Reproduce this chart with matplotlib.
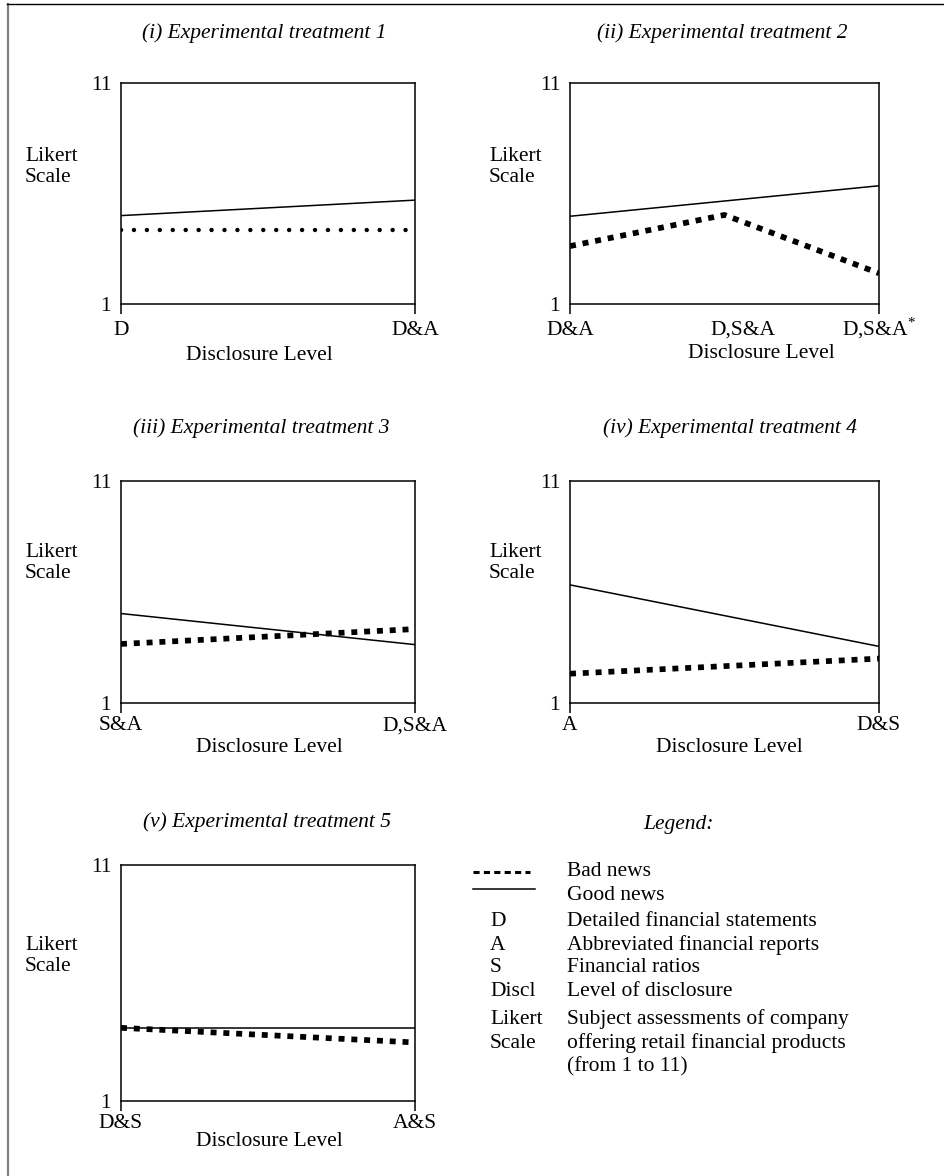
import matplotlib.pyplot as plt
from matplotlib.transforms import ScaledTranslation

plt.rcParams['font.family'] = ['Liberation Serif', 'DejaVu Serif']
plt.rcParams['mathtext.fontset'] = 'custom'
plt.rcParams['mathtext.rm'] = 'Liberation Serif'

W, H = 945, 1176
FS = 15.5

# treatment data (Likert scale means)
t1_levels = ['D', 'D&A']
t1_good = [5.0, 5.7]
t1_bad = [4.35, 4.35]

t2_levels = ['D&A', 'D,S&A', r'D,S&A$^{*}$']
t2_good = [4.97, 5.66, 6.35]
t2_bad = [3.62, 5.03, 2.39]

t3_levels = ['S&A', 'D,S&A']
t3_good = [5.03, 3.63]
t3_bad = [3.66, 4.33]

t4_levels = ['A', 'D&S']
t4_good = [6.32, 3.55]
t4_bad = [2.32, 3.0]

t5_levels = ['D&S', 'A&S']
t5_good = [4.1, 4.1]
t5_bad = [4.1, 3.48]

titles = ['(i) Experimental treatment 1', '(ii) Experimental treatment 2',
          '(iii) Experimental treatment 3', '(iv) Experimental treatment 4',
          '(v) Experimental treatment 5']

legend_keys = ['D', 'A', 'S', 'Discl', 'Likert', 'Scale', '']
legend_desc = ['Detailed financial statements', 'Abbreviated financial reports',
               'Financial ratios', 'Level of disclosure',
               'Subject assessments of company',
               'offering retail financial products', '(from 1 to 11)']

fig = plt.figure(figsize=(W / 100, H / 100), dpi=100)

# overlay in pixel coordinates for free text
bg = fig.add_axes([0, 0, 1, 1])
bg.set_xlim(0, W)
bg.set_ylim(H, 0)
bg.axis('off')

# page frame
bg.plot([7.5, 7.5], [4, H], color='#808080', lw=1.6)
bg.plot([7, W], [4, 4], color='black', lw=1.0)


def panel(box, levels, good, bad, dotted=False, lab_pad=15):
    x0, y0, x1, y1 = box
    ax = fig.add_axes([x0 / W, 1 - y1 / H, (x1 - x0) / W, (y1 - y0) / H])
    ax.patch.set_alpha(0)
    xs = list(range(len(levels)))
    ax.plot(xs, good, color='black', lw=1.1)
    if dotted:
        ax.plot(xs, bad, color='black', lw=3.2, linestyle=(0, (0.01, 2.9)),
                dash_capstyle='round')
    else:
        ax.plot(xs, bad, color='black', lw=4.1, linestyle=(0, (1.05, 1.2)))
    ax.set_xlim(0, len(levels) - 1)
    ax.set_ylim(1, 11)
    ax.set_xticks(xs)
    ax.set_xticklabels(levels, fontsize=FS)
    ax.tick_params(axis='x', length=7, width=1.1, pad=lab_pad)
    for t in ax.xaxis.get_major_ticks()[1:-1]:
        t.tick1line.set_visible(False)
    for lab in ax.get_xticklabels():
        lab.set_verticalalignment('baseline')
    ax.set_yticks([1, 11])
    ax.set_yticklabels(['1', '11'], fontsize=FS)
    ax.tick_params(axis='y', length=0, pad=7)
    for s in ax.spines.values():
        s.set_linewidth(1.1)
    return ax


panel((121, 83, 415, 304), t1_levels, t1_good, t1_bad, dotted=True, lab_pad=15.3)
ax2 = panel((570, 83, 879, 304), t2_levels, t2_good, t2_bad, lab_pad=15.3)
mid = ax2.get_xticklabels()[1]
mid.set_transform(mid.get_transform() + ScaledTranslation(0.18, 0, fig.dpi_scale_trans))
panel((121, 481, 415, 703), t3_levels, t3_good, t3_bad, lab_pad=12.5)
panel((570, 481, 879, 703), t4_levels, t4_good, t4_bad, lab_pad=12.5)
panel((121, 865, 415, 1101), t5_levels, t5_good, t5_bad, lab_pad=12.5)

# titles
title_pos = [(264, 33), (722, 33), (261, 428), (730, 428), (267, 822)]
for txt, (x, y) in zip(titles, title_pos):
    bg.text(x, y, txt, fontsize=FS, style='italic', ha='center', va='center')
bg.text(678, 825, 'Legend:', fontsize=FS, style='italic', ha='center', va='center')

# y axis labels
for x, y in [(25, 167), (489, 167), (25, 563), (489, 563), (25, 956)]:
    bg.text(x, y, 'Likert\nScale', fontsize=FS, ha='left', va='center')

# x axis labels
for x, y in [(259, 355), (761, 354), (269, 747), (729, 747), (269, 1142)]:
    bg.text(x, y, 'Disclosure Level', fontsize=FS, ha='center', va='center')

# legend
bg.plot([473, 530], [872, 872], color='black', lw=2.2, linestyle=(0, (2, 1.4)))
bg.plot([473, 535], [889, 889], color='black', lw=1.1)
bg.text(567, 872, 'Bad news', fontsize=FS, ha='left', va='center')
bg.text(567, 895, 'Good news', fontsize=FS, ha='left', va='center')
row_y = [921.5, 945, 968, 991.5, 1019, 1043, 1067]
for k, d, y in zip(legend_keys, legend_desc, row_y):
    bg.text(490, y, k, fontsize=FS, ha='left', va='center')
    bg.text(567, y, d, fontsize=FS, ha='left', va='center')

fig.savefig('out.png', dpi=100)
